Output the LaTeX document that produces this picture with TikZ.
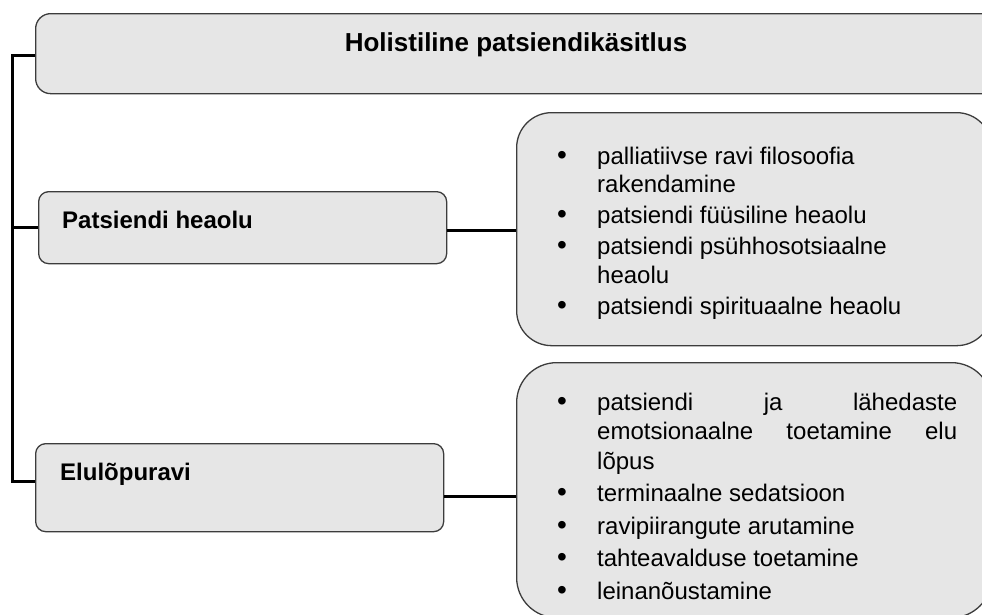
\documentclass[tikz,border=0pt]{standalone}
\usepackage{fontspec}
\setmainfont{Liberation Sans}
\definecolor{boxfill}{RGB}{230,230,230}
\definecolor{boxline}{RGB}{60,60,60}
\newcommand\bulitem{\par\hangindent=41pt\hangafter=1\noindent\makebox[41pt][l]{\hspace{1pt}{\fontsize{28}{28}\selectfont\textbullet}}\ignorespaces}
\tikzset{
  panel/.style={draw=boxline, fill=boxfill, line width=1.3pt, anchor=north west, inner sep=0pt},
  link/.style={draw=black, line width=3pt},
  headtxt/.style={anchor=base west, font=\fontsize{24}{28}\selectfont\bfseries, inner sep=0pt},
  listtxt/.style={anchor=base west, inner sep=0pt, align=left}
}
\begin{document}
\begin{tikzpicture}[x=1pt,y=-1pt]
\useasboundingbox (0,0) rectangle (982,614);
\clip (0,0) rectangle (982,614);
% boxes
\node[panel, rounded corners=15pt, minimum width=962pt, minimum height=80pt] (top) at (35,13) {};
\node[panel, rounded corners=10pt, minimum width=408pt, minimum height=72pt] (ph) at (38,191) {};
\node[panel, rounded corners=10pt, minimum width=408pt, minimum height=88pt] (el) at (35,443) {};
\node[panel, rounded corners=35pt, minimum width=475pt, minimum height=233pt] (rb1) at (516,112) {};
\node[panel, rounded corners=40pt, minimum width=475pt, minimum height=255pt] (rb2) at (516,362) {};
% texts
\node[anchor=base, inner sep=0pt, font=\fontsize{26}{30}\selectfont\bfseries] (title) at (516,51) {Holistiline patsiendikäsitlus};
\node[headtxt] (tph) at (62,228) {Patsiendi heaolu};
\node[headtxt] (tel) at (60,480) {Elulõpuravi};
\node[listtxt] (l1) at (556,164) {\begin{minipage}[t]{401pt}\fontsize{24}{28.5}\selectfont\parskip=2.5pt\hyphenpenalty=10000
\bulitem palliatiivse ravi filosoofia\\rakendamine
\bulitem patsiendi füüsiline heaolu
\bulitem patsiendi psühhosotsiaalne\\heaolu
\bulitem patsiendi spirituaalne heaolu
\end{minipage}};
\node[listtxt] (l2) at (556,410) {\begin{minipage}[t]{401pt}\fontsize{24}{29.5}\selectfont\parskip=3pt\hyphenpenalty=10000
\bulitem patsiendi\hfill ja\hfill lähedaste\\emotsionaalne\hfill toetamine\hfill elu\\lõpus
\bulitem terminaalne sedatsioon
\bulitem ravipiirangute arutamine
\bulitem tahteavalduse toetamine
\bulitem leinanõustamine
\end{minipage}};
% bracket
\coordinate (btop) at (12,55);
\coordinate (bmid) at (12,227.5);
\coordinate (bbot) at (12,481);
\draw[link] (top.west |- btop) -- (btop) -- ([yshift=-1.5pt]bbot);
\draw[link] (bmid) -- (ph.west |- bmid);
\draw[link] (bbot) -- (el.west |- bbot);
% connectors
\draw[link] (ph.east |- 0,230.5) -- (rb1.west |- 0,230.5);
\draw[link] (el.east |- 0,496.5) -- (rb2.west |- 0,496.5);
\end{tikzpicture}
\end{document}
